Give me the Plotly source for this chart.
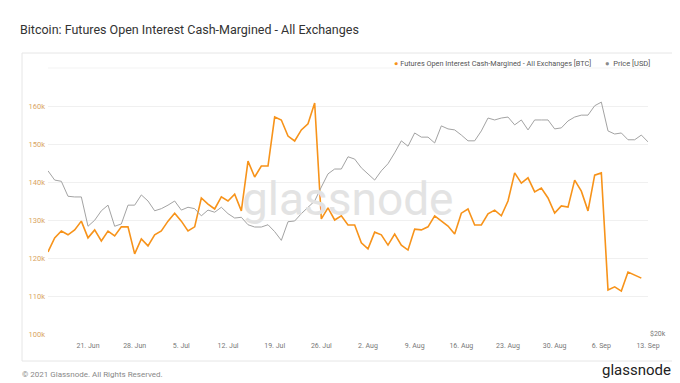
import math
import plotly.graph_objects as go
import pandas as pd

# ---- data ----
start_date = "2021-06-15"
n_days = 91
dates = pd.date_range(start_date, periods=n_days, freq="D")

oi_btc = [121600, 125300, 127100, 126100, 127400, 129700, 125300, 127400, 124500, 127100,
          125800, 128200, 128200, 121100, 125000, 123200, 126100, 127100, 129700, 131800,
          129700, 127100, 128200, 135800, 134200, 132900, 136100, 135000, 136800, 132400,
          145500, 141300, 144200, 144200, 157100, 156300, 152100, 150800, 153700, 155300,
          160800, 130300, 133200, 130000, 131100, 128700, 128700, 124000, 122400, 126800,
          126100, 123400, 126300, 123400, 122100, 127600, 127400, 128200, 131100, 129700,
          128400, 126300, 131800, 132900, 128700, 128700, 131600, 132600, 131100, 135000,
          142400, 139700, 141100, 137400, 138400, 135800, 131800, 133700, 133400, 140500,
          137600, 132400, 141800, 142400, 111600, 112400, 111300, 116300, None, 114700, None]

price_usd = [39600, 38100, 37900, 35600, 35500, 35500, 31400, 32200, 33500, 34300,
             31400, 31700, 34300, 34300, 35800, 34900, 33500, 33800, 34300, 34900,
             33600, 34000, 33800, 32800, 33600, 33300, 34000, 33100, 32500, 32600,
             31600, 31300, 31300, 31600, 30700, 29600, 32000, 32100, 33100, 34000,
             34900, 37000, 39100, 39900, 39900, 42000, 41600, 40100, 39100, 38100,
             39600, 40800, 42700, 44900, 43900, 46400, 45600, 45600, 44500, 47800,
             47200, 47000, 46000, 44900, 44900, 46800, 49400, 49000, 49400, 49600,
             48000, 49000, 47000, 49000, 49000, 49000, 47200, 47400, 48800, 49600,
             50000, 50000, 52000, 52800, 46800, 46200, 46400, 45100, 45100, 46000, 44700]

x_tick_dates = ["2021-06-21", "2021-06-28", "2021-07-05", "2021-07-12", "2021-07-19",
                "2021-07-26", "2021-08-02", "2021-08-09", "2021-08-16", "2021-08-23",
                "2021-08-30", "2021-09-06", "2021-09-13"]
x_tick_labels = ["21. Jun", "28. Jun", "5. Jul", "12. Jul", "19. Jul", "26. Jul", "2. Aug",
                 "9. Aug", "16. Aug", "23. Aug", "30. Aug", "6. Sep", "13. Sep"]
oi_tick_vals = [100000, 110000, 120000, 130000, 140000, 150000, 160000]
oi_tick_labels = ["100k", "110k", "120k", "130k", "140k", "150k", "160k"]
price_tick_vals = [20000]
price_tick_labels = ["$20k"]

title_text = "Bitcoin: Futures Open Interest Cash-Margined - All Exchanges"
oi_name = "Futures Open Interest Cash-Margined - All Exchanges [BTC]"
price_name = "Price [USD]"

ORANGE = "#f7931a"
GREY = "#a3a3a3"
FONT = "Roboto"

W, H = 680, 383
PL, PR, PT, PB = 40, 640, 60, 326  # plot area in pixels


def px(x):
    return (x - PL) / (PR - PL)


def py(y):
    return (PB - y) / (PB - PT)


fig = go.Figure()
fig.add_trace(go.Scatter(x=dates, y=price_usd, name=price_name, mode="lines",
                         line=dict(color=GREY, width=1), yaxis="y2", showlegend=False))
fig.add_trace(go.Scatter(x=dates, y=oi_btc, name=oi_name, mode="lines", connectgaps=True,
                         line=dict(color=ORANGE, width=1.6), yaxis="y", showlegend=False))

fig.update_layout(
    width=W, height=H,
    margin=dict(l=PL, r=W - PR, t=PT, b=H - PB),
    paper_bgcolor="white", plot_bgcolor="white",
    font=dict(family=FONT, color="#777"),
    title=dict(text=title_text, x=12 / W, xanchor="left", xref="container",
               y=1 - 22 / H, yanchor="middle", yref="container",
               font=dict(size=12.5, color="#333", family=FONT)),
    xaxis=dict(range=[dates[0], dates[-1]], tickvals=x_tick_dates, ticktext=x_tick_labels,
               showgrid=False, zeroline=False, showline=False, ticks="",
               ticklabelstandoff=6,
               tickfont=dict(size=7, color="#777")),
    yaxis=dict(range=[100000, 100000 + (PB - PT) / 3.8 * 1000], tickvals=oi_tick_vals,
               ticktext=oi_tick_labels, showgrid=True, gridcolor="#f0f0f0", gridwidth=1,
               zeroline=False, showline=False, ticks="", ticklabelstandoff=2,
               tickfont=dict(size=7.5, color="#d9a464")),
    yaxis2=dict(type="log", overlaying="y", side="right",
                range=[math.log10(20000), math.log10(20000) + (PB - PT) / 550],
                tickvals=price_tick_vals, ticktext=price_tick_labels, showgrid=False,
                zeroline=False, showline=False, ticks="", ticklabelstandoff=1,
                tickfont=dict(size=7, color="#777")),
    hovermode=False,
)

# card
fig.add_shape(type="rect", xref="paper", yref="paper", x0=px(14), x1=px(665), y0=py(353), y1=py(45),
              line=dict(color="#e6e6e6", width=1), fillcolor="rgba(0,0,0,0)", layer="below")
# faint top rule of the plot
fig.add_shape(type="line", xref="paper", yref="paper", x0=0, x1=1, y0=1, y1=1,
              line=dict(color="#f3f3f3", width=1), layer="below")

annotations = [
    # watermark
    dict(text="glassnode", x=px(340), y=py(191), xref="paper", yref="paper", showarrow=False,
         font=dict(size=46, color="#e3e3e3", family=FONT), xanchor="center", yanchor="middle"),
    # legend
    dict(text=f"<span style='color:{ORANGE}'>●</span> {oi_name}", x=px(585), y=py(56),
         xref="paper", yref="paper", showarrow=False, xanchor="right", yanchor="middle",
         font=dict(size=7.3, color="#555", family=FONT)),
    dict(text=f"<span style='color:#8a8a8a'>●</span>  {price_name}", x=px(595), y=py(56),
         xref="paper", yref="paper", showarrow=False, xanchor="left", yanchor="middle",
         font=dict(size=7.5, color="#555", family=FONT)),
    # footer
    dict(text="© 2021 Glassnode. All Rights Reserved.", x=px(12), y=py(366), xref="paper",
         yref="paper", showarrow=False, xanchor="left", yanchor="middle",
         font=dict(size=8, color="#888", family=FONT)),
    dict(text="glassnode", x=px(665), y=py(362), xref="paper", yref="paper", showarrow=False,
         xanchor="right", yanchor="middle", font=dict(size=15, color="#222", family=FONT)),
]
fig.update_layout(annotations=annotations)

fig.write_html("out.html")
